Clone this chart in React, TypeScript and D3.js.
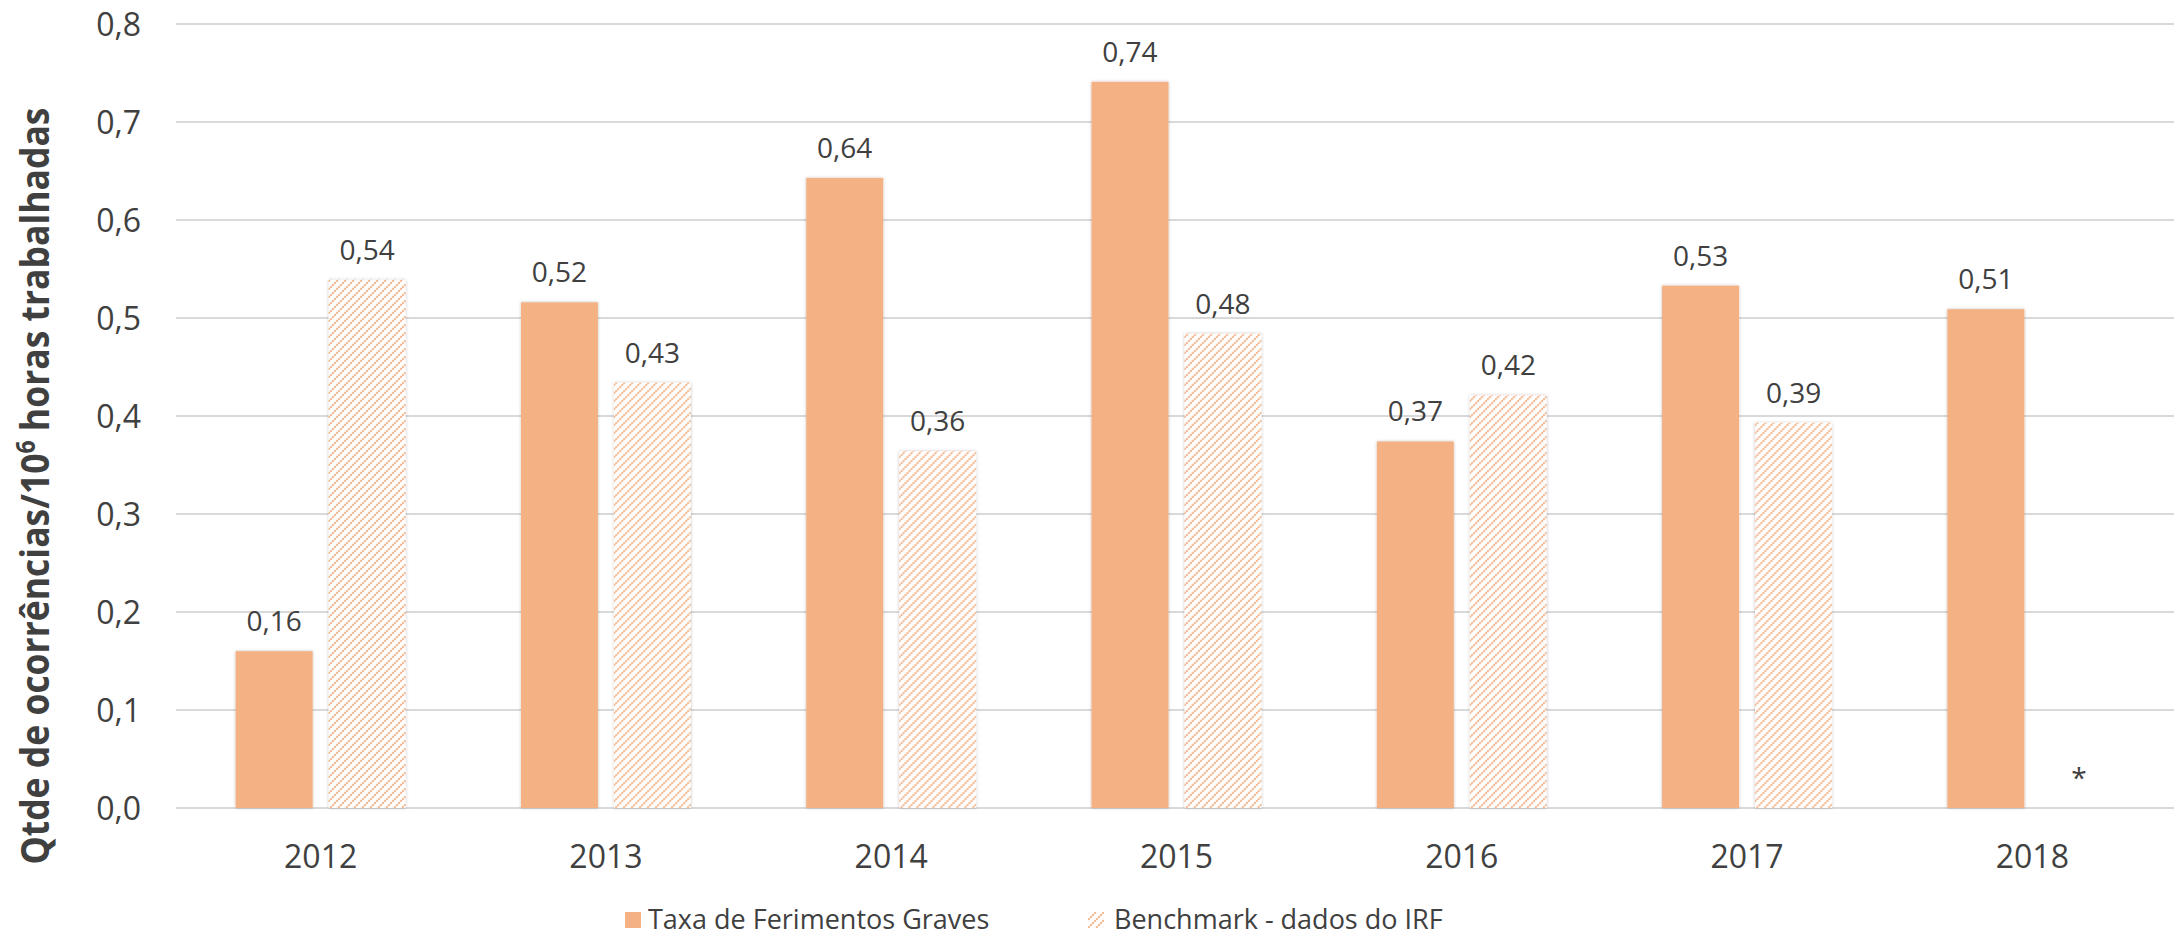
import React from "react";
import * as d3 from "d3";

// chart data
const years = ["2012", "2013", "2014", "2015", "2016", "2017", "2018"];
const taxaValues = [0.16, 0.516, 0.643, 0.741, 0.374, 0.533, 0.509];
const benchmarkValues: (number | null)[] = [0.539, 0.434, 0.364, 0.484, 0.421, 0.393, null];
const seriesNames = ["Taxa de Ferimentos Graves", "Benchmark - dados do IRF"];
const yTicks = [0, 0.1, 0.2, 0.3, 0.4, 0.5, 0.6, 0.7, 0.8];
const missingLabel = "*";
const yTitle = ["Qtde de ocorrências/10", "6", " horas trabalhadas"];

const W = 2183;
const H = 942;
const ORANGE = "#F4B183";
const TEXT = "#404040";
const FONT = "'Open Sans', 'Noto Sans', sans-serif";

const comma = (f: (n: number) => string) => (v: number) => f(v).replace(".", ",");
const fmtLabel = comma(d3.format(".2f"));
const fmtTick = comma(d3.format(".1f"));

export default function App() {
  const y = d3.scaleLinear().domain([0, 0.8]).range([808, 24]);
  const x0 = d3.scaleBand().domain(years).range([178, 2175]);
  const x1 = d3
    .scaleBand()
    .domain(seriesNames)
    .range([0, x0.bandwidth()])
    .paddingInner(0.172)
    .paddingOuter(0.62);
  const bw = x1.bandwidth();

  const rows = years.map((yr, i) => ({
    year: yr,
    values: [taxaValues[i], benchmarkValues[i]],
  }));

  return (
    <svg
      width={W}
      height={H}
      style={{ position: "absolute", left: 0, top: 0, background: "#fff" }}
      fontFamily={FONT}
    >
      <defs>
        <pattern id="hatch" patternUnits="userSpaceOnUse" width="8" height="8">
          <rect width="8" height="8" fill="#fff" />
          <path
            d="M-2,2 l4,-4 M0,8 l8,-8 M6,10 l4,-4"
            stroke={ORANGE}
            strokeWidth="1.9"
            strokeDasharray="2.2,0.8"
          />
        </pattern>
        <filter id="shadow" x="-10%" y="-5%" width="120%" height="110%">
          <feDropShadow dx="0" dy="0" stdDeviation="1.5" floodColor="#000" floodOpacity="0.25" />
        </filter>
      </defs>

      {/* grid */}
      <g>
        {yTicks.map((t) => (
          <line
            key={t}
            x1={176}
            x2={2174}
            y1={y(t)}
            y2={y(t)}
            stroke="#D9D9D9"
            strokeWidth={2}
          />
        ))}
      </g>

      {/* y tick labels */}
      <g fontSize={32} fill={TEXT} textAnchor="end">
        {yTicks.map((t) => (
          <text key={t} x={141} y={y(t)} dy="0.36em">
            {fmtTick(t)}
          </text>
        ))}
      </g>

      {/* bars */}
      {rows.map((r) => (
        <g key={r.year} transform={`translate(${x0(r.year)},0)`}>
          {r.values.map((v, j) =>
            v == null ? null : (
              <rect
                key={j}
                x={x1(seriesNames[j])}
                y={y(v)}
                width={bw}
                height={y(0) - y(v)}
                fill={j === 0 ? ORANGE : "url(#hatch)"}
                filter="url(#shadow)"
              />
            )
          )}
          {r.values.map((v, j) => (
            <text
              key={"l" + j}
              x={(x1(seriesNames[j]) as number) + bw / 2}
              y={v == null ? y(0) - 20 : y(v) - 20}
              textAnchor="middle"
              fontSize={28}
              fill={TEXT}
            >
              {v == null ? missingLabel : fmtLabel(v)}
            </text>
          ))}
        </g>
      ))}

      {/* x labels */}
      <g fontSize={32} fill={TEXT} textAnchor="middle">
        {years.map((yr) => (
          <text key={yr} x={(x0(yr) as number) + x0.bandwidth() / 2} y={868}>
            {yr}
          </text>
        ))}
      </g>

      {/* y title */}
      <text
        transform="translate(49,486) rotate(-90)"
        textAnchor="middle"
        fontSize={40}
        fontWeight="bold"
        fill={TEXT}
        textLength={757}
        lengthAdjust="spacingAndGlyphs"
      >
        {yTitle[0]}
        <tspan dy={-14} fontSize={26}>
          {yTitle[1]}
        </tspan>
        <tspan dy={14}>{yTitle[2]}</tspan>
      </text>

      {/* legend */}
      <g fontSize={27} fill={TEXT}>
        <rect x={625} y={912} width={16} height={16} fill={ORANGE} />
        <text x={648} y={929}>
          {seriesNames[0]}
        </text>
        <rect x={1088} y={912} width={16} height={16} fill="url(#hatch)" />
        <text x={1114} y={929}>
          {seriesNames[1]}
        </text>
      </g>
    </svg>
  );
}
